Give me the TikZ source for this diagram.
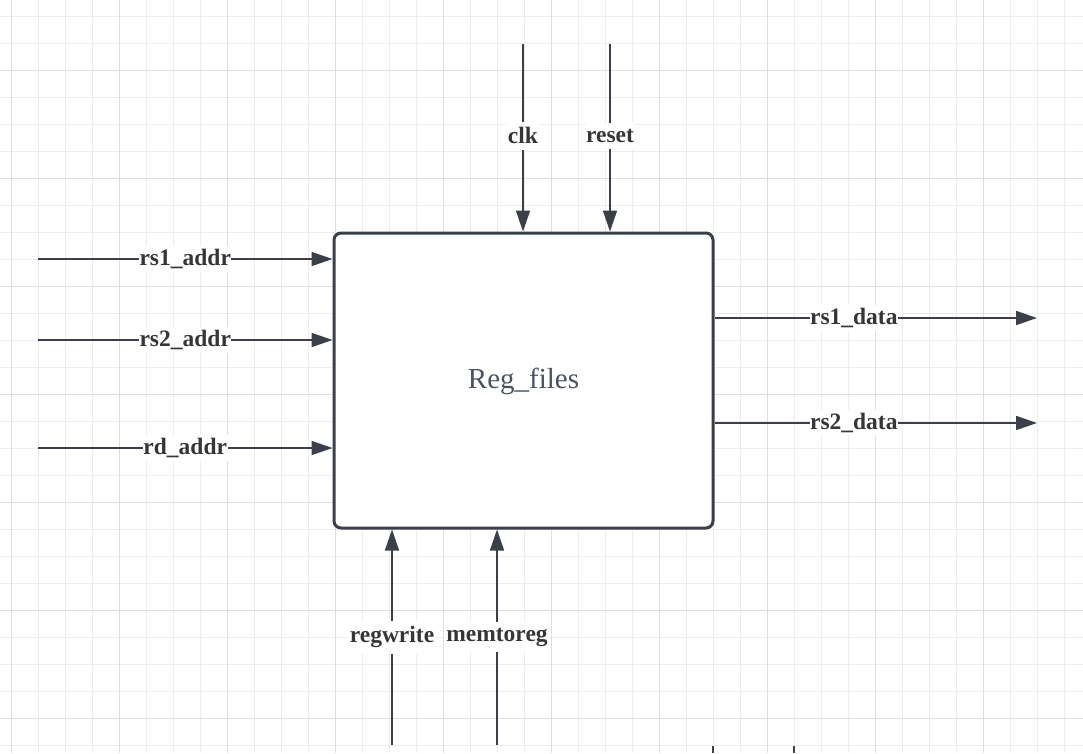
\documentclass[tikz,border=0pt]{standalone}
\usepackage{fontspec}
\setmainfont{Liberation Serif}
\usetikzlibrary{arrows.meta}
\definecolor{edge}{HTML}{3A3F4A}
\definecolor{lbl}{HTML}{363636}
\definecolor{title}{HTML}{4D5260}
\definecolor{gminor}{HTML}{EDEDED}
\definecolor{gmajor}{HTML}{DEDEDE}
\tikzset{
  arr/.style={draw=edge, line width=1.6pt, -{Triangle[length=21pt,width=14pt]}},
  sig/.style={fill=white, text=lbl, font=\fontsize{23.5}{28}\selectfont\bfseries, inner xsep=0.5pt, inner ysep=3pt},
  regbox/.style={draw=edge, line width=3pt, rounded corners=7pt, fill=white,
    minimum width=379pt, minimum height=295pt, inner sep=0pt},
  regtitle/.style={text=title, font=\fontsize{29}{34}\selectfont, inner sep=0pt},
}
\begin{document}
\begin{tikzpicture}[x=1pt,y=-1pt]
\useasboundingbox (0,0) rectangle (1083,753);
\fill[white] (0,0) rectangle (1083,753);
% grid
\foreach \i in {0,...,40} {
  \draw[gminor, line width=1pt] ({11.3+27*\i},0) -- ({11.3+27*\i},753);
}
\foreach \i in {0,...,28} {
  \draw[gminor, line width=1pt] (0,{16.3+27*\i}) -- (1083,{16.3+27*\i});
}
\foreach \i in {0,...,10} {
  \draw[gmajor, line width=1pt] ({11.3+108*\i},0) -- ({11.3+108*\i},753);
}
\foreach \i in {0,...,7} {
  \draw[gmajor, line width=1pt] (0,{-37.7+108*\i}) -- (1083,{-37.7+108*\i});
}
% box
\node[regbox] (rf) at (523.5,380.5) {};
\node[regtitle, anchor=base] (rft) at (523.5,388) {Reg\_files};
% inputs left
\coordinate (a1) at (38,259);
\coordinate (a2) at (38,340);
\coordinate (a3) at (38,448);
\draw[arr] (a1) -- node[sig] {rs1\_addr} (rf.west |- a1);
\draw[arr] (a2) -- node[sig] {rs2\_addr} (rf.west |- a2);
\draw[arr] (a3) -- node[sig] {rd\_addr} (rf.west |- a3);
% outputs right
\coordinate (o1) at (1037,318);
\coordinate (o2) at (1037,423);
\draw[arr] (rf.east |- o1) -- node[sig, pos=0.432] {rs1\_data} (o1);
\draw[arr] (rf.east |- o2) -- node[sig, pos=0.432] {rs2\_data} (o2);
% top inputs
\coordinate (t1) at (523,44);
\coordinate (t2) at (610,44);
\draw[arr] (t1) -- node[sig, inner ysep=6pt, pos=0.49] {clk} (rf.north -| t1);
\draw[arr] (t2) -- node[sig, inner ysep=6pt, pos=0.49] {reset} (rf.north -| t2);
% bottom inputs
\coordinate (b1) at (392,745);
\coordinate (b2) at (497,745);
\draw[arr] (b1) -- node[sig, inner ysep=6pt] {regwrite} (rf.south -| b1);
\draw[arr] (b2) -- node[sig, inner ysep=6pt] {memtoreg} (rf.south -| b2);
% stubs at bottom edge
\coordinate (s1) at (712.7,746);
\coordinate (s2) at (794,746);
\draw[edge, line width=1.6pt] (s1) -- (712.7,753);
\draw[edge, line width=1.6pt] (s2) -- (794,753);
\end{tikzpicture}
\end{document}
